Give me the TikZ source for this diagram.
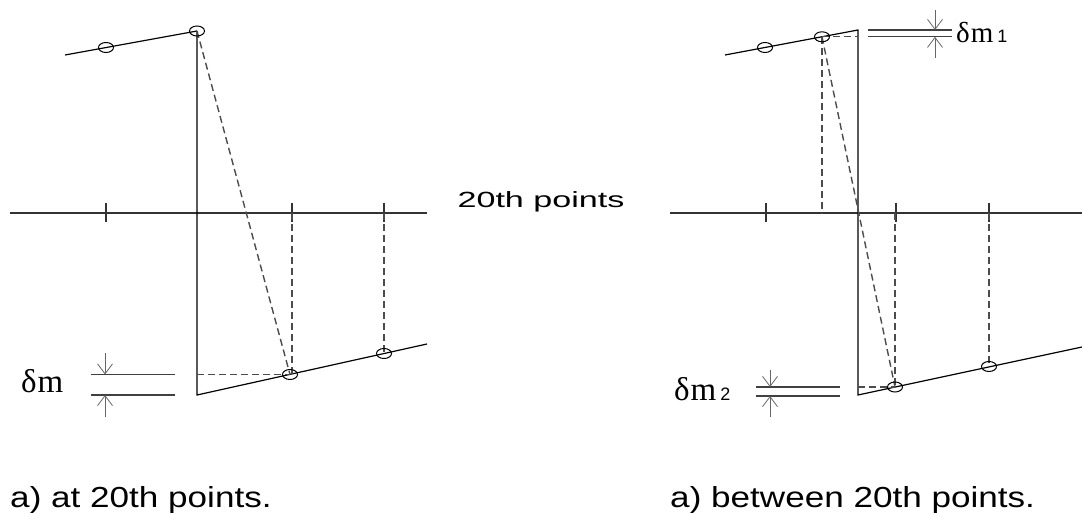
\documentclass[tikz,border=0pt]{standalone}
\usepackage{fontspec}
\newfontfamily\txtfont{Liberation Sans}
\newfontfamily\symfont{Liberation Serif}
\usetikzlibrary{arrows.meta}
\tikzset{
  axis/.style={line width=1.4pt, black!80},
  curve/.style={line width=1.2pt, black},
  guide/.style={line width=1.4pt, black!70, dash pattern=on 7pt off 4pt},
  ring/.style={line width=1pt, black},
  dimline/.style={line width=1.1pt, black!75},
  dimarrow/.style={line width=0.8pt, black!60, -{Straight Barb[length=10pt,width=15pt]}},
  capt/.style={font=\txtfont\fontsize{29}{34}\selectfont, xscale=1.21, anchor=base west, inner sep=0pt},
  delta/.style={font=\symfont\fontsize{33}{38}\selectfont, anchor=base west, inner sep=0pt}
}
\newcommand{\subdigit}[1]{\hspace{4pt}{\txtfont\fontsize{18}{20}\selectfont #1}}
\begin{document}
\begin{tikzpicture}[x=1pt,y=-1pt]
  \useasboundingbox (0,0) rectangle (1082,513);

  % a) at 20th points
  \draw[axis] (10,213) -- (427,213);
  \foreach \t in {106,292,384}
    \draw[axis] (\t,203) -- (\t,222);
  \coordinate (a0) at (65,55);
  \coordinate (a1) at (106,47.5);
  \coordinate (a2) at (197,31);
  \coordinate (a3) at (197,395);
  \coordinate (a4) at (290,374.5);
  \coordinate (a5) at (384,353.5);
  \coordinate (a6) at (427,344);
  \draw[curve] (a0) -- (a2);
  \draw[curve] (a2) -- (a3) -- (a6);
  \draw[guide] (a2) -- (a4);
  \draw[guide] (a3 |- a4) -- (a4);
  \draw[guide] (292,213) -- (292,374.5);
  \draw[guide] (384,213) -- (a5);
  \foreach \p in {a1,a2,a4,a5}
    \draw[ring] (\p) ellipse [x radius=7.5pt, y radius=5pt];
  \draw[dimline] (91,374.5) -- (175,374.5);
  \draw[dimline] (91,395) -- (175,395);
  \draw[dimarrow] (105,353) -- (105,374.5);
  \draw[dimarrow] (105,417) -- (105,395);
  \node[delta] (dmA) at (21,392) {δ\hspace{1pt}m};

  % a) between 20th points
  \draw[axis] (670,213) -- (1082,213);
  \foreach \t in {766,896,989}
    \draw[axis] (\t,203) -- (\t,222);
  \coordinate (b0) at (725,55);
  \coordinate (b1) at (765,47.5);
  \coordinate (b2) at (822,36.8);
  \coordinate (b3) at (858,30);
  \coordinate (b4) at (858,395);
  \coordinate (b5) at (895,387);
  \coordinate (b6) at (989,366.5);
  \coordinate (b7) at (1082,347);
  \draw[curve] (b0) -- (b3) -- (b4) -- (b7);
  \draw[guide] (b2) -- (b3 |- b2);
  \draw[guide] (b2) -- (b2 |- 0,213);
  \draw[guide] (b2) -- (b5);
  \draw[guide] (b4 |- b5) -- (b5);
  \draw[guide] (b5 |- 0,213) -- (b5);
  \draw[guide] (b6 |- 0,213) -- (b6);
  \foreach \p in {b1,b2,b5,b6}
    \draw[ring] (\p) ellipse [x radius=7.5pt, y radius=5pt];
  \draw[dimline] (868,30) -- (952,30);
  \draw[dimline] (868,36.8) -- (952,36.8);
  \draw[dimarrow] (935,10) -- (935,30);
  \draw[dimarrow] (935,58) -- (935,36.8);
  \node[delta, font=\symfont\fontsize{29}{34}\selectfont] (dmB) at (956,43) {δ\hspace{1pt}m\subdigit{1}};
  \draw[dimline] (756,387) -- (840,387);
  \draw[dimline] (756,396) -- (840,396);
  \draw[dimarrow] (770,370) -- (770,387);
  \draw[dimarrow] (770,417) -- (770,396);
  \node[delta] (dmC) at (674,400) {δ\hspace{1pt}m\subdigit{2}};

  \node[font=\txtfont\fontsize{22}{26}\selectfont, xscale=1.55, anchor=base, inner sep=0pt] (axlbl) at (541,208) {20th points};
  \node[capt] (captA) at (10,507) {a) at 20th points.};
  \node[capt] (captB) at (670,507) {a) between 20th points.};
\end{tikzpicture}
\end{document}
